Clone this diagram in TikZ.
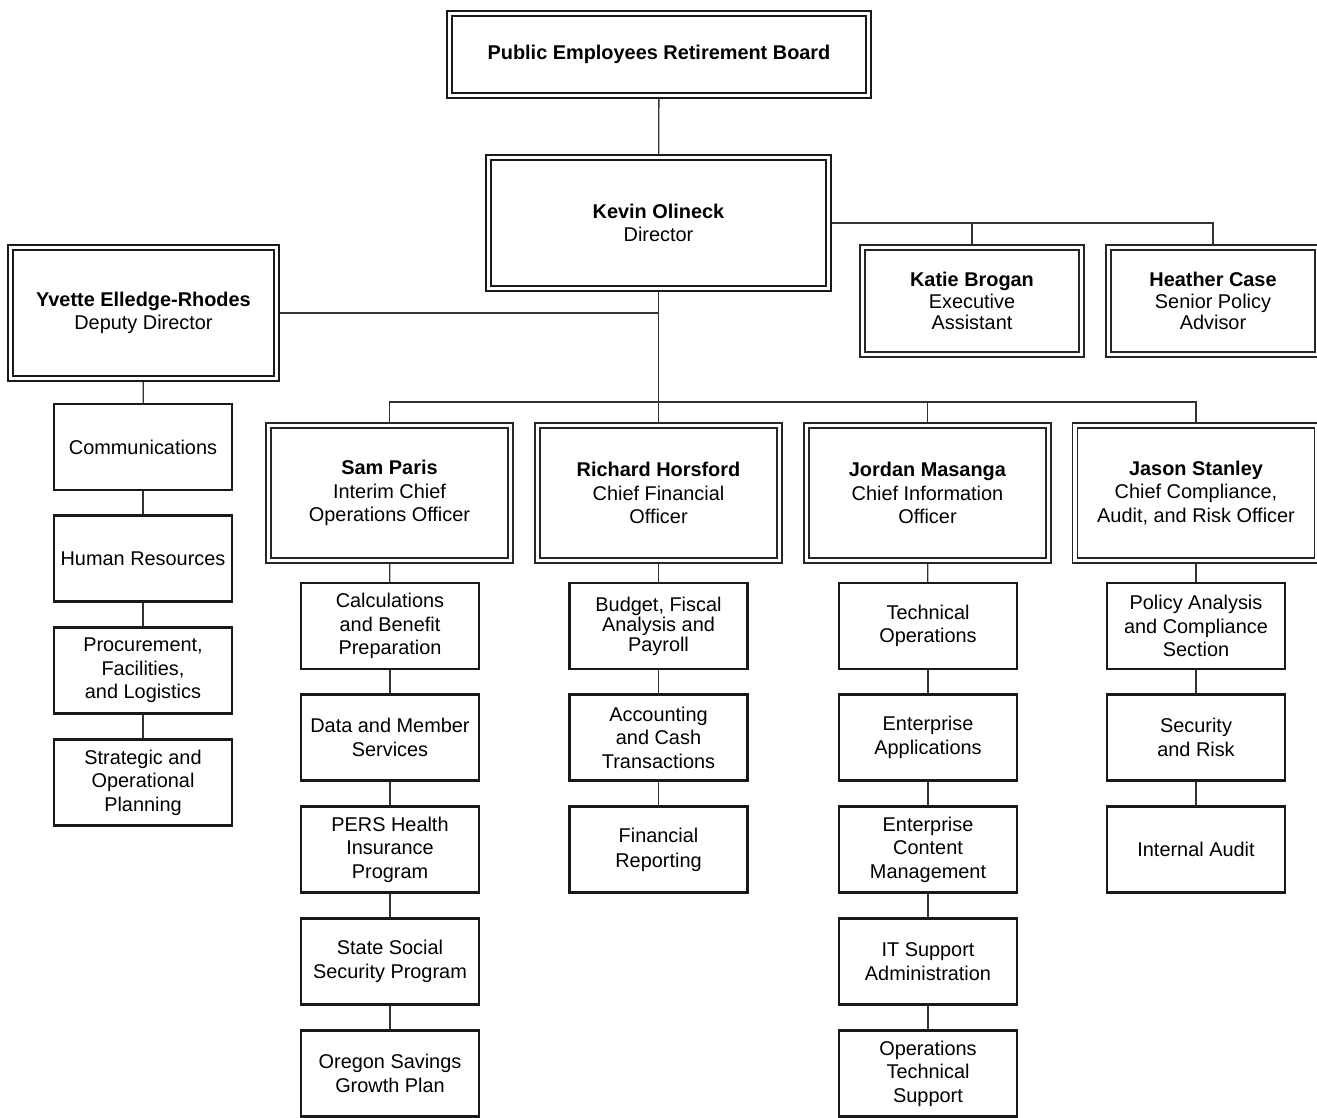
\documentclass[tikz,border=0pt]{standalone}
\usepackage{fontspec}
\setmainfont{Liberation Sans}
\usetikzlibrary{backgrounds}
\begin{document}
\begin{tikzpicture}[x=1pt,y=-1pt,
  every node/.style={align=center, font=\fontsize{19.9}{23.5}\selectfont, text=black},
  box/.style={draw=black!90, fill=white, line width=2.2pt, minimum width=178pt, minimum height=86pt, inner sep=0pt},
  dbl/.style={draw=black!90, line width=2pt, double=white, double distance=3pt, inner sep=0pt},
  dblthin/.style={draw=black!85, line width=1.4pt, double=white, double distance=3.4pt, inner sep=0pt},
  con/.style={draw=black!80, line width=1.3pt}]
\useasboundingbox (0,0) rectangle (1317,1117);

% top level
\node[dbl, minimum width=419pt, minimum height=82pt] (board) at (659,54.5) {\textbf{Public Employees Retirement Board}};
\node[dbl, minimum width=340pt, minimum height=131pt] (dir) at (658.5,223) {\textbf{Kevin Olineck}\\Director};
\node[dbl, minimum width=266pt, minimum height=131pt] (yv) at (143.5,313) {\textbf{Yvette Elledge-Rhodes}\\Deputy Director};
\node[dblthin, minimum width=219pt, minimum height=107pt, font=\fontsize{19.9}{21.5}\selectfont] (katie) at (972,301) {\textbf{Katie Brogan}\\Executive\\Assistant};
\node[dblthin, minimum width=209pt, minimum height=107pt, font=\fontsize{19.9}{21.5}\selectfont] (heather) at (1213,301) {\textbf{Heather Case}\\Senior Policy\\Advisor};

% second level
\node[dblthin, minimum width=242pt, minimum height=135pt] (sam) at (389.5,493) {\textbf{Sam Paris}\\Interim Chief\\Operations Officer};
\node[dblthin, minimum width=242pt, minimum height=135pt] (rich) at (658.5,493) {\textbf{Richard Horsford}\\Chief Financial\\Officer};
\node[dblthin, minimum width=242pt, minimum height=135pt] (jord) at (927.5,493) {\textbf{Jordan Masanga}\\Chief Information\\Officer};
\node[dblthin, minimum width=242pt, minimum height=135pt] (jas) at (1196,493) {\textbf{Jason Stanley}\\Chief Compliance,\\Audit, and Risk Officer};

% left column
\node[box] (c1) at (143,447) {Communications};
\node[box] (c2) at (143,558.5) {Human Resources};
\node[box] (c3) at (143,670.5) {Procurement,\\Facilities,\\and Logistics};
\node[box] (c4) at (143,782.5) {Strategic and\\Operational\\Planning};

% Sam column
\node[box] (s1) at (390,626) {Calculations\\and Benefit\\Preparation};
\node[box] (s2) at (390,737.5) {Data and Member\\Services};
\node[box] (s3) at (390,849.5) {PERS Health\\Insurance\\Program};
\node[box] (s4) at (390,961.5) {State Social\\Security Program};
\node[box] (s5) at (390,1073.5) {Oregon Savings\\Growth Plan};

% Richard column
\node[box, font=\fontsize{19.9}{20}\selectfont] (r1) at (658.5,626) {Budget, Fiscal\\Analysis and\\Payroll};
\node[box] (r2) at (658.5,737.5) {Accounting\\and Cash\\Transactions};
\node[box, font=\fontsize{19.9}{25}\selectfont] (r3) at (658.5,849.5) {Financial\\Reporting};

% Jordan column
\node[box] (j1) at (928,626) {Technical\\Operations};
\node[box] (j2) at (928,737.5) {Enterprise\\Applications};
\node[box] (j3) at (928,849.5) {Enterprise\\Content\\Management};
\node[box] (j4) at (928,961.5) {IT Support\\Administration};
\node[box] (j5) at (928,1073.5) {Operations\\Technical\\Support};

% Jason column
\node[box] (k1) at (1196,626) {Policy Analysis\\and Compliance\\Section};
\node[box] (k2) at (1196,737.5) {Security\\and Risk};
\node[box] (k3) at (1196,849.5) {Internal Audit};

\coordinate (bus) at (658.5,402);

\begin{scope}[on background layer]
\draw[con] (board) -- (dir);
\draw[con] (dir.east) -| (heather.north);
\draw[con] (katie.north) -- (katie.north |- dir.east);
\draw[con] (dir.south) -- (bus);
\draw[con] (yv.east) -- (yv.east -| dir.south);
\draw[con] (sam.north) |- (bus) -| (jas.north);
\draw[con] (rich.north) -- (bus);
\draw[con] (jord.north) -- (jord.north |- bus);
\draw[con] (yv) -- (c1);
\draw[con] (c1) -- (c2);
\draw[con] (c2) -- (c3);
\draw[con] (c3) -- (c4);
\draw[con] (sam) -- (s1);
\draw[con] (s1) -- (s2);
\draw[con] (s2) -- (s3);
\draw[con] (s3) -- (s4);
\draw[con] (s4) -- (s5);
\draw[con] (rich) -- (r1);
\draw[con] (r1) -- (r2);
\draw[con] (r2) -- (r3);
\draw[con] (jord) -- (j1);
\draw[con] (j1) -- (j2);
\draw[con] (j2) -- (j3);
\draw[con] (j3) -- (j4);
\draw[con] (j4) -- (j5);
\draw[con] (jas) -- (k1);
\draw[con] (k1) -- (k2);
\draw[con] (k2) -- (k3);
\end{scope}
\end{tikzpicture}
\end{document}
